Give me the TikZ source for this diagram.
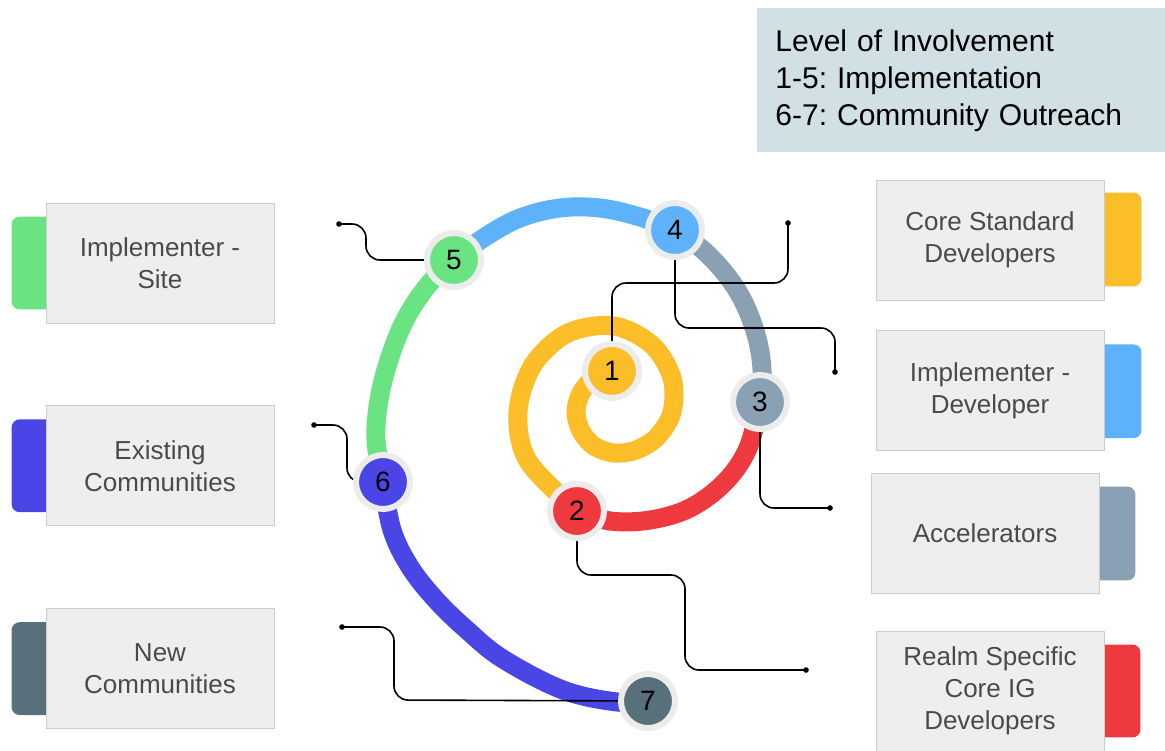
\documentclass[tikz,border=0pt]{standalone}
\usepackage{fontspec}
\setmainfont{Liberation Sans}
\frenchspacing
\usetikzlibrary{positioning,backgrounds}

\definecolor{stepyellow}{RGB}{251,190,40}
\definecolor{stepred}{RGB}{238,58,62}
\definecolor{stepslate}{RGB}{138,160,179}
\definecolor{stepsky}{RGB}{93,178,250}
\definecolor{stepgreen}{RGB}{106,228,130}
\definecolor{stepviolet}{RGB}{74,70,230}
\definecolor{stepdark}{RGB}{88,111,124}
\definecolor{boxgrey}{RGB}{238,238,238}
\definecolor{boxline}{RGB}{204,204,204}
\definecolor{ringgrey}{RGB}{236,236,236}
\definecolor{legendbg}{RGB}{208,224,228}
\definecolor{labeltext}{RGB}{74,74,74}

\tikzset{
  rolebox/.style={draw=boxline, fill=boxgrey, minimum width=114pt, minimum height=60pt,
    inner sep=0pt, align=center, text=labeltext, font=\fontsize{13}{16}\selectfont},
  roletab/.style={fill=#1, rounded corners=4pt},
  stage/.style={circle, fill=#1, draw=ringgrey, line width=3pt, minimum size=27pt,
    inner sep=0pt, font=\fontsize{14}{14}\selectfont},
  band/.style={draw=#1, line width=9.5pt},
  wire/.style={draw=black, line width=.8pt, rounded corners=7pt}
}

\begin{document}
\begin{tikzpicture}[x=.5pt,y=-.5pt]
\useasboundingbox (0,0) rectangle (1165,750);

% legend
\node (legend) [anchor=north west, fill=legendbg, minimum width=204pt, minimum height=72pt,
  text width=186pt, inner xsep=9pt, align=left, font=\fontsize{15}{18.5}\selectfont]
  at (757,8) {Level of Involvement\\1-5: Implementation\\6-7: Community Outreach};

% left boxes
\node (site) [rolebox] at (160,263) {Implementer -\\Site};
\node (existing) [rolebox, below=41pt of site] {Existing\\Communities};
\node (new) [rolebox, below=41pt of existing] {New\\Communities};

% right boxes
\node (core) [rolebox] at (990,240) {Core Standard\\Developers};
\node (dev) [rolebox, below=15pt of core] {Implementer -\\Developer};
\node (acc) [rolebox] at (985,533) {Accelerators};
\node (realm) [rolebox] at (990,691) {Realm Specific\\Core IG\\Developers};

% tabs behind the boxes
\begin{scope}[on background layer]
\fill[white] (0,0) rectangle (1165,750);
\fill[roletab=stepgreen] ([xshift=-17pt,yshift=-7pt]site.north west) rectangle ([xshift=8pt,yshift=7pt]site.south west);
\fill[roletab=stepviolet] ([xshift=-17pt,yshift=-7pt]existing.north west) rectangle ([xshift=8pt,yshift=7pt]existing.south west);
\fill[roletab=stepdark] ([xshift=-17pt,yshift=-7pt]new.north west) rectangle ([xshift=8pt,yshift=7pt]new.south west);
\fill[roletab=stepyellow] ([xshift=-8pt,yshift=-6.5pt]core.north east) rectangle ([xshift=18.5pt,yshift=7pt]core.south east);
\fill[roletab=stepsky] ([xshift=-8pt,yshift=-7pt]dev.north east) rectangle ([xshift=18.5pt,yshift=6.5pt]dev.south east);
\fill[roletab=stepslate] ([xshift=-8pt,yshift=-7pt]acc.north east) rectangle ([xshift=18pt,yshift=6.5pt]acc.south east);
\fill[roletab=stepred] ([xshift=-8pt,yshift=-7pt]realm.north east) rectangle ([xshift=18pt,yshift=7pt]realm.south east);
\end{scope}

% stage centres and loose wire ends
\coordinate (p1) at (612,371);
\coordinate (p2) at (577,511);
\coordinate (p3) at (760,402);
\coordinate (p4) at (675,230);
\coordinate (p5) at (454,260);
\coordinate (p6) at (383,482);
\coordinate (p7) at (648,701);

\coordinate (e1) at (788,223);
\coordinate (e2) at (806,670);
\coordinate (e3) at (830,508);
\coordinate (e4) at (835,372);
\coordinate (e5) at (339,224);
\coordinate (e6) at (314,425);
\coordinate (e7) at (342,627);

% the spiral
\draw[band=stepyellow] plot[smooth, tension=.55] coordinates {(p1) (594,378) (581,393) (576,412)
  (581,431) (594,446) (614,453) (636,450) (657,437) (672,412) (672,378) (652,345) (614,326)
  (568,333) (533,365) (518,412) (528,461) (p2)};
\draw[band=stepred] plot[smooth, tension=.6] coordinates {(p2) (610,521) (650,520) (690,508)
  (725,482) (748,448) (p3)};
\draw[band=stepslate] plot[smooth, tension=.6] coordinates {(p3) (762,370) (757,338) (745,305)
  (728,277) (703,250) (p4)};
\draw[band=stepsky] plot[smooth, tension=.6] coordinates {(p4) (640,217) (600,208) (560,208)
  (520,218) (485,237) (p5)};
\draw[band=stepgreen] plot[smooth, tension=.6] coordinates {(p5) (428,285) (405,320) (389,360)
  (379,400) (376,440) (p6)};
\draw[band=stepviolet] plot[smooth, tension=.6] coordinates {(p6) (392,530) (410,567) (436,600)
  (467,630) (503,659) (563,690) (617,702) (p7)};

% wires
\draw[wire] (p1) |- (788,283) -- (e1);
\draw[wire] (p2) |- (685,575) |- (e2);
\draw[wire] (p3) |- (e3);
\draw[wire] (p4) |- (835,328) -- (e4);
\draw[wire] (e5) -| (366,260) -- (p5);
\draw[wire] (e6) -| (347,482) -- (p6);
\draw[wire] (e7) -| (394,700) -- (p7);
\foreach \e in {e1,e2,e3,e4,e5,e6,e7}
  \fill (\e) circle (1.4pt);

% stages
\node (n1) [stage=stepyellow] at (p1) {1};
\node (n2) [stage=stepred] at (p2) {2};
\node (n3) [stage=stepslate] at (p3) {3};
\node (n4) [stage=stepsky] at (p4) {4};
\node (n5) [stage=stepgreen] at (p5) {5};
\node (n6) [stage=stepviolet] at (p6) {6};
\node (n7) [stage=stepdark] at (p7) {7};
\end{tikzpicture}
\end{document}
